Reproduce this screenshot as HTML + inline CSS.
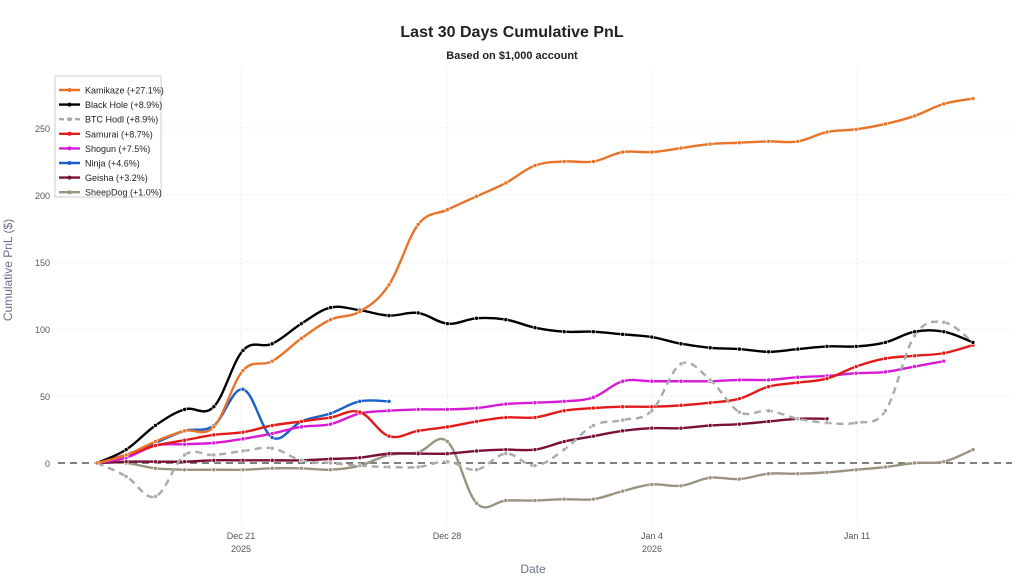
<!DOCTYPE html>
<html><head><meta charset="utf-8"><style>
body{margin:0;background:#fff;}
svg{display:block;font-family:"Liberation Sans",Arial,sans-serif;}
</style></head><body>
<svg id="s" width="1024" height="585" viewBox="0 0 1024 585">
<rect width="1024" height="585" fill="#fff"/>
<text x="512" y="37" text-anchor="middle" font-size="16" font-weight="bold" fill="#222">Last 30 Days Cumulative PnL</text>
<text x="512" y="59" text-anchor="middle" font-size="11" font-weight="bold" fill="#222">Based on $1,000 account</text>
<text transform="translate(12,270) rotate(-90)" text-anchor="middle" font-size="12" fill="#6a6f8a">Cumulative PnL ($)</text>
<text x="533" y="573" text-anchor="middle" font-size="12" fill="#6a6f8a">Date</text>
<g id="grid"></g>
<g id="lines"></g>
<g id="leg"></g>
</svg>
<script>
var NS="http://www.w3.org/2000/svg";
function el(t,a,p,txt){var e=document.createElementNS(NS,t);for(var k in a)e.setAttribute(k,a[k]);if(txt!=null)e.textContent=txt;p.appendChild(e);return e;}
var g=document.getElementById('grid'),L=document.getElementById('lines'),lg=document.getElementById('leg');
function Y(v){return 463-1.34*v;}function X(d){return 97+29.2*d;}
[0,50,100,150,200,250].forEach(function(v){
 if(v)el('line',{x1:58,x2:1012,y1:Y(v),y2:Y(v),stroke:'#eee','stroke-dasharray':'2,2'},g);
 el('text',{x:50,y:Y(v)+4,'text-anchor':'end','font-size':9,fill:'#555'},g,v);});
[[241,'Dec 21','2025'],[447,'Dec 28',''],[652,'Jan 4','2026'],[857,'Jan 11','']].forEach(function(t){
 el('line',{x1:t[0],x2:t[0],y1:70,y2:525,stroke:'#eee','stroke-dasharray':'2,2'},g);
 el('text',{x:t[0],y:539,'text-anchor':'middle','font-size':9,fill:'#555'},g,t[1]);
 if(t[2])el('text',{x:t[0],y:552,'text-anchor':'middle','font-size':9,fill:'#555'},g,t[2]);});
el('line',{x1:58,x2:1012,y1:463,y2:463,stroke:'#555','stroke-width':1.5,'stroke-dasharray':'7,5'},g);
var S=[
['SheepDog (+1.0%)','#9a937f',false,[0,0,-4,-5,-5,-5,-4,-4,-5,-2,6,8,16,-30,-28,-28,-27,-27,-21,-16,-17,-11,-12,-8,-8,-7,-5,-3,0,1,10]],
['Geisha (+3.2%)','#7a1038',false,[0,1,1,1,2,2,2,2,3,4,7,7,7,9,10,10,16,20,24,26,26,28,29,31,33,33]],
['Ninja (+4.6%)','#1a5fc8',false,[0,6,15,24,28,55,19,31,37,46,46]],
['Shogun (+7.5%)','#d61ad6',false,[0,4,13,14,15,18,22,27,29,37,39,40,40,41,44,45,46,49,61,61,61,61,62,62,64,65,67,68,72,76]],
['Samurai (+8.7%)','#e31a1a',false,[0,6,13,17,21,23,28,31,34,38,20,24,27,31,34,34,39,41,42,42,43,45,48,57,60,63,72,78,80,82,88]],
['BTC Hodl (+8.9%)','#aaaaaa',true,[0,-10,-25,6,6,9,11,2,0,-2,-3,-3,1,-5,7,-2,10,28,32,39,74,62,38,39,33,30,30,39,95,105,90]],
['Black Hole (+8.9%)','#000000',false,[0,10,28,40,42,84,89,104,116,114,110,112,104,108,107,101,98,98,96,94,89,86,85,83,85,87,87,90,98,98,90]],
['Kamikaze (+27.1%)','#e8742a',false,[0,6,16,24,27,69,76,93,107,113,133,178,189,199,209,222,225,225,232,232,235,238,239,240,240,247,249,253,259,268,272]]
];
function path(p){var d='M'+p[0][0]+','+p[0][1];for(var i=0;i<p.length-1;i++){var p0=p[i-1]||p[i],p1=p[i],p2=p[i+1],p3=p[i+2]||p2,t=0.18;
 d+=' C'+(p1[0]+(p2[0]-p0[0])*t)+','+(p1[1]+(p2[1]-p0[1])*t)+' '+(p2[0]-(p3[0]-p1[0])*t)+','+(p2[1]-(p3[1]-p1[1])*t)+' '+p2[0]+','+p2[1];}return d;}
S.forEach(function(s){var pts=s[3].map(function(v,i){return [X(i),Y(v)];});
 var a={d:path(pts),fill:'none',stroke:s[1],'stroke-width':2.4};if(s[2])a['stroke-dasharray']='7,5';el('path',a,L);
 pts.forEach(function(p){el('circle',{cx:p[0],cy:p[1],r:2,fill:s[1],stroke:'#fff','stroke-width':0.6},L);});});
el('rect',{x:55,y:76,width:106,height:121,fill:'#fff',stroke:'#ccc','stroke-width':1},lg);
S.slice().reverse().forEach(function(s,i){var y=90+i*14.6;
 var a={x1:59,x2:80,y1:y,y2:y,stroke:s[1],'stroke-width':2.4};if(s[2])a['stroke-dasharray']='5,3';el('line',a,lg);
 el('circle',{cx:69.5,cy:y,r:2,fill:s[1]},lg);
 el('text',{x:85,y:y+3.5,'font-size':9,fill:'#222'},lg,s[0]);});
</script>
</body></html>
